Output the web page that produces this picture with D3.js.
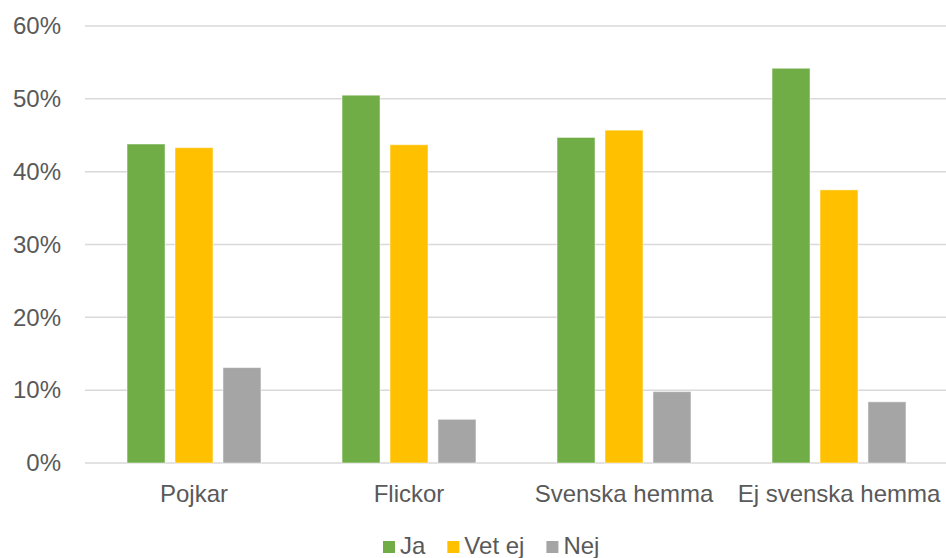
<!DOCTYPE html>
<html>
<head>
<meta charset="utf-8">
<script src="https://cdn.jsdelivr.net/npm/d3@7"></script>
<style>
  html, body { margin: 0; padding: 0; background: #fff; }
  svg { display: block; font-family: "Liberation Sans", Arial, Helvetica, sans-serif; }
</style>
</head>
<body>
<svg id="chart" width="946" height="558"></svg>
<script>
const categories = ["Pojkar", "Flickor", "Svenska hemma", "Ej svenska hemma"];
const seriesNames = ["Ja", "Vet ej", "Nej"];
const ja = [0.438, 0.505, 0.447, 0.542];
const vetEj = [0.433, 0.437, 0.457, 0.375];
const nej = [0.131, 0.060, 0.098, 0.084];
const colors = ["#70AD47", "#FFC000", "#A5A5A5"];
const yTicks = [0, 0.1, 0.2, 0.3, 0.4, 0.5, 0.6];

const seriesValues = [ja, vetEj, nej];
const svg = d3.select("#chart");
const plotLeft = 86.5, plotRight = 946.5, plotTop = 26, plotBottom = 463;

const x0 = d3.scaleBand().domain(categories).range([plotLeft, plotRight])
  .paddingInner(0.377).paddingOuter(0.1885);
const x1 = d3.scaleBand().domain(seriesNames).range([0, x0.bandwidth()])
  .paddingInner(0.208).paddingOuter(0);
const y = d3.scaleLinear().domain([0, 0.6]).range([plotBottom, plotTop]);
const color = d3.scaleOrdinal().domain(seriesNames).range(colors);

// gridlines
svg.append("g").selectAll("line").data(yTicks).join("line")
  .attr("x1", 85).attr("x2", 946)
  .attr("y1", d => y(d)).attr("y2", d => y(d))
  .attr("stroke", "#d9d9d9").attr("stroke-width", 1.5);

// y axis labels
const yAxis = d3.axisLeft(y).tickValues(yTicks).tickFormat(d3.format(".0%")).tickSize(0).tickPadding(0);
const ya = svg.append("g").attr("transform", "translate(61,0)").call(yAxis);
ya.select(".domain").remove();
ya.selectAll("text").attr("fill", "#595959").attr("font-size", "24px")
  .attr("font-family", "'Liberation Sans', Arial, sans-serif");

// bars
const data = categories.map((c, i) => ({ cat: c, vals: seriesNames.map((s, j) => ({ s, v: seriesValues[j][i] })) }));
svg.append("g").selectAll("g").data(data).join("g")
  .attr("transform", d => `translate(${x0(d.cat)},0)`)
  .selectAll("rect").data(d => d.vals).join("rect")
  .attr("x", d => x1(d.s))
  .attr("width", x1.bandwidth())
  .attr("y", d => y(d.v))
  .attr("height", d => y(0) - y(d.v))
  .attr("fill", d => color(d.s))
  .attr("stroke", "rgba(255,255,255,0.5)").attr("stroke-width", 1);

// x axis labels
const xAxis = d3.axisBottom(x0).tickSize(0).tickPadding(0);
const xa = svg.append("g").attr("transform", "translate(0,485)").call(xAxis);
xa.select(".domain").remove();
xa.selectAll("text").attr("fill", "#595959").attr("font-size", "24px")
  .attr("font-family", "'Liberation Sans', Arial, sans-serif");

// legend
const lg = svg.append("g");
const items = lg.selectAll("g").data(seriesNames).join("g");
let cx = 383;
items.each(function(d) {
  const g = d3.select(this);
  g.append("rect").attr("x", cx).attr("y", 541).attr("width", 12).attr("height", 12).attr("fill", color(d));
  const t = g.append("text").attr("x", cx + 17).attr("y", 554).text(d)
    .attr("fill", "#595959").attr("font-size", "24px");
  cx += 17 + t.node().getComputedTextLength() + 22;
});
</script>
</body>
</html>
